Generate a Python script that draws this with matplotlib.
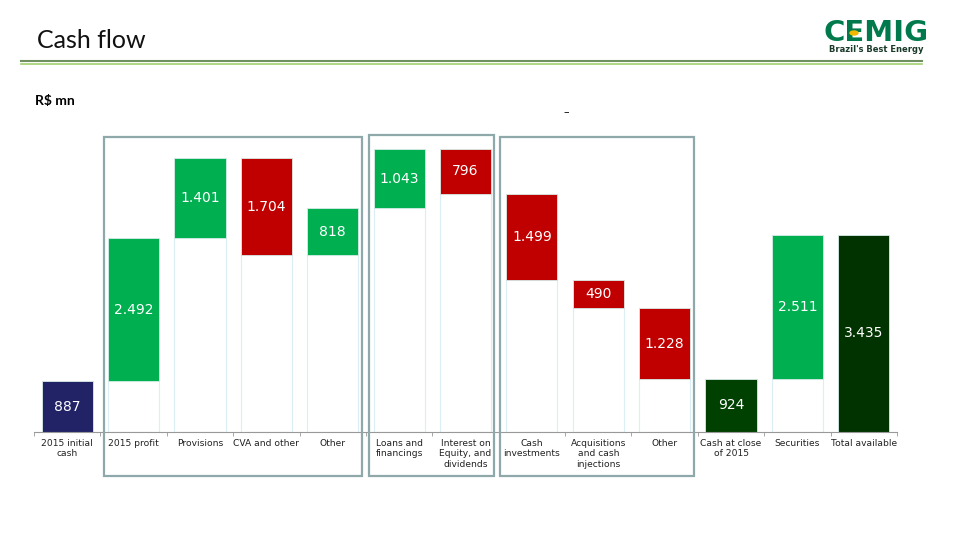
import numpy as np
import matplotlib
matplotlib.use('Agg')
import matplotlib.pyplot as plt
from matplotlib.patches import Rectangle, Ellipse
from matplotlib.lines import Line2D

categories = ['2015 initial\ncash', '2015 profit', 'Provisions', 'CVA and other', 'Other',
              'Loans and\nfinancings', 'Interest on\nEquity, and\ndividends',
              'Cash\ninvestments', 'Acquisitions\nand cash\ninjections', 'Other',
              'Cash at close\nof 2015', 'Securities', 'Total available']
# signed changes; first and last two are handled as totals
flows = [887, 2492, 1401, -1704, 818, 1043, -796, -1499, -490, -1228]
securities = 2511
colors = ['#222266', '#00b050', '#00b050', '#c00000', '#00b050', '#00b050', '#c00000',
          '#c00000', '#c00000', '#c00000', '#004000', '#00b050', '#003300']

level = np.cumsum(flows)
close_cash = level[-1]
total = close_cash + securities

bottoms = [0]
heights = [flows[0]]
for i in range(1, len(flows)):
    lo = min(level[i - 1], level[i])
    bottoms.append(lo)
    heights.append(abs(flows[i]))
bottoms += [0, close_cash, 0]
heights += [close_cash, securities, total]
labels = [abs(v) for v in flows] + [close_cash, securities, total]

fig = plt.figure(figsize=(9.59, 5.4), dpi=100)
W, H = 959, 540

def fx(px):
    return px / W

def fy(py):
    return 1 - py / H

ax = fig.add_axes([fx(34), fy(432), fx(863), 292 / H])
x = np.arange(len(categories))
bw = 0.77

# invisible base bars with faint edges
ax.bar(x, bottoms, bw, color='white', edgecolor='#daeef3', linewidth=0.8)
ax.bar(x, heights, bw, bottom=bottoms, color=colors, edgecolor='#d8ece8', linewidth=0.6)

for xi, b, h, v in zip(x, bottoms, heights, labels):
    ax.text(xi, b + h / 2, f'{v:,}'.replace(',', '.'), ha='center', va='center',
            color='white', fontsize=10)

ax.set_xlim(-0.5, len(categories) - 0.5)
ax.set_ylim(0, 5087)
ax.set_yticks([])
ax.set_xticks(x)
ax.set_xticklabels(categories, fontsize=6.6, color='#222222', linespacing=1.2)
ax.tick_params(axis='x', which='major', length=0, pad=5)
ax.set_xticks(np.arange(-0.5, len(categories), 1), minor=True)
ax.tick_params(axis='x', which='minor', length=3, color='#999999')
for s in ['top', 'right', 'left']:
    ax.spines[s].set_visible(False)
ax.spines['bottom'].set_color('#999999')
ax.spines['bottom'].set_linewidth(0.8)

# group boxes
for x0, x1, y0, y1 in [(104, 362, 137, 476), (369, 494, 135, 476), (500, 694, 137, 476)]:
    fig.patches.append(Rectangle((fx(x0), fy(y1)), fx(x1 - x0), (y1 - y0) / H,
                                 transform=fig.transFigure, fill=False,
                                 edgecolor='#8fa9ab', linewidth=1.6))

# header
fig.text(fx(37), fy(40), 'Cash flow', fontsize=18, family='Lato', va='center', color='#111111')
fig.lines.append(Line2D([fx(21), fx(922)], [fy(61), fy(61)], transform=fig.transFigure,
                        color='#6f8f5f', linewidth=1.5))
fig.lines.append(Line2D([fx(21), fx(922)], [fy(64), fy(64)], transform=fig.transFigure,
                        color='#9fd06f', linewidth=1.2))
fig.text(fx(35), fy(101), 'R$ mn', fontsize=10, family='Lato', weight='bold', va='center')
fig.text(fx(566), fy(112), '–', fontsize=8, ha='center', va='center')

# logo
fig.text(fx(876), fy(33), 'CEMIG', fontsize=21, weight='bold', color='#007a4d',
         ha='center', va='center')
fig.patches.append(Ellipse((fx(854), fy(33)), fx(8), 4 / H, transform=fig.transFigure,
                           color='#f5b800', zorder=5))
fig.text(fx(876), fy(50), "Brazil's Best Energy", fontsize=6, weight='bold',
         color='#1a3a2a', ha='center', va='center')

fig.savefig('out.png', dpi=100)
